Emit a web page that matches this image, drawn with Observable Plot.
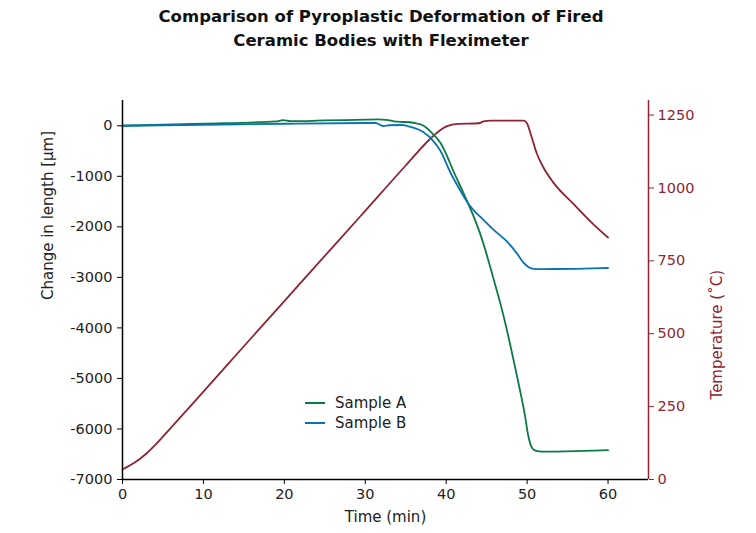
<!DOCTYPE html>
<html><head><meta charset="utf-8">
<script src="https://cdn.jsdelivr.net/npm/d3@7"></script>
<script src="https://cdn.jsdelivr.net/npm/@observablehq/plot@0.6"></script>
<style>
body{margin:0;background:#fff;font-family:"DejaVu Sans",sans-serif;}
#wrap{position:relative;width:756px;height:533px;}
#title{position:absolute;top:5px;left:0;width:762px;text-align:center;font-weight:bold;font-size:16.5px;line-height:24px;color:#111;}
#legend{position:absolute;left:305px;top:393px;font-size:15px;color:#222;line-height:20px;}
#legend .row{display:flex;align-items:center;}
#legend .sw{width:20px;height:2px;margin-right:10px;}
</style></head><body>
<div id="wrap"><div id="chart"></div><div id="title">Comparison of Pyroplastic Deformation of Fired<br>Ceramic Bodies with Fleximeter</div><div id="legend"></div></div>
<script>
// ---- data ----
const seriesNames = ["Sample A", "Sample B"];
const timeA = [0, 10, 19, 19.8, 20.8, 25, 30, 31.5, 33, 34, 35.5, 36.5, 37.2, 38.4, 39.3, 40, 40.9, 42.1, 43.3, 44.2, 45.1, 45.8, 46.7, 47.5, 48.3, 49.1, 49.7, 50.1, 50.4, 50.8, 51.5, 52, 56, 60];
const lenA  = [0, 40, 85, 110, 90, 105, 120, 125, 105, 80, 70, 40, 0, -170, -340, -560, -900, -1320, -1760, -2140, -2600, -3000, -3520, -4040, -4620, -5220, -5700, -6100, -6300, -6410, -6445, -6450, -6440, -6420];
const timeB = [0, 10, 20, 30, 31.3, 32.2, 33, 34.5, 35.6, 36.5, 37.2, 38.4, 39.3, 40.5, 41.7, 42.9, 44.2, 45.8, 47.5, 48.8, 49.5, 50.2, 50.8, 52, 56, 60];
const lenB  = [0, 20, 40, 55, 55, -5, 10, 15, -20, -70, -130, -300, -500, -920, -1270, -1580, -1800, -2050, -2290, -2540, -2700, -2800, -2830, -2835, -2830, -2815];
const timeT = [0, 1, 2, 3, 4, 6, 8.4, 15, 20, 25, 29.4, 35, 38, 38.8, 39.6, 40.4, 41.5, 44, 44.6, 45.5, 49.6, 50, 50.5, 51.2, 52, 53.2, 55.7, 58.1, 60];
const temp  = [35, 50, 68, 90, 117, 178, 252, 457, 612, 767, 903, 1077, 1168, 1188, 1205, 1215, 1220, 1222, 1228, 1231, 1231, 1221, 1180, 1118, 1071, 1020, 946, 878, 830];
const xTicks = [0, 10, 20, 30, 40, 50, 60];
const yTicks = [-7000, -6000, -5000, -4000, -3000, -2000, -1000, 0];
const tTicks = [0, 250, 500, 750, 1000, 1250];
const xDomain = [0, 65];
const yDomain = [-7000, 500];
const tDomain = [0, 1300];
const colors = ["#0b7a45", "#0a71b3"];
const red = "#8e2434";

// ---- mapping temperature onto left scale ----
const toY = t => yDomain[0] + (t - tDomain[0]) * (yDomain[1] - yDomain[0]) / (tDomain[1] - tDomain[0]);
const fromY = y => tDomain[0] + (y - yDomain[0]) * (tDomain[1] - tDomain[0]) / (yDomain[1] - yDomain[0]);

const dataA = timeA.map((t, i) => ({time: t, v: lenA[i], s: seriesNames[0]}));
const dataB = timeB.map((t, i) => ({time: t, v: lenB[i], s: seriesNames[1]}));
const dataT = timeT.map((t, i) => ({time: t, v: toY(temp[i])}));

const font = "'DejaVu Sans', sans-serif";
const chart = Plot.plot({
  width: 756, height: 533,
  marginLeft: 122, marginRight: 108, marginTop: 100, marginBottom: 54,
  style: {fontFamily: font, fontSize: "14.5px", color: "#222", background: "white"},
  x: {domain: xDomain},
  y: {domain: yDomain},
  marks: [
    Plot.line(dataT, {x: "time", y: "v", stroke: red, strokeWidth: 1.8, curve: "monotone-x"}),
    Plot.line(dataA, {x: "time", y: "v", stroke: colors[0], strokeWidth: 1.8, curve: "monotone-x"}),
    Plot.line(dataB, {x: "time", y: "v", stroke: colors[1], strokeWidth: 1.8, curve: "monotone-x"}),
    Plot.ruleX([xDomain[0]], {stroke: "black", strokeWidth: 1.5}),
    Plot.ruleY([yDomain[0]], {stroke: "black", strokeWidth: 1.5}),
    Plot.ruleX([xDomain[1]], {stroke: red, strokeWidth: 1.5}),
    Plot.axisX(xTicks, {label: null, tickSize: 5, tickPadding: 4, stroke: "black", tickFormat: d => String(d)}),
    Plot.axisY(yTicks, {label: null, tickSize: 5, tickPadding: 5, stroke: "black", tickFormat: d => String(d)}),
    Plot.axisY(tTicks.map(toY), {anchor: "right", label: null, tickSize: 5, tickPadding: 4, tickFormat: d => String(Math.round(fromY(d))), color: red}),
    Plot.text(["Change in length [μm]"], {text: d => d, frameAnchor: "left", dx: -74, dy: 10, rotate: -90, fontSize: 15, fill: "#222"}),
    Plot.text(["Temperature (˚C)"], {text: d => d, frameAnchor: "right", dx: 69, dy: -20, rotate: -90, fontSize: 15, fill: red}),
    Plot.text(["Time (min)"], {text: d => d, frameAnchor: "bottom", dy: 42, fontSize: 15, fill: "#222"})
  ]
});
document.getElementById("chart").appendChild(chart);

const legend = d3.select("#legend");
seriesNames.forEach((n, i) => {
  const row = legend.append("div").attr("class", "row");
  row.append("div").attr("class", "sw").style("background", colors[i]);
  row.append("span").text(n);
});
</script>
</body></html>
